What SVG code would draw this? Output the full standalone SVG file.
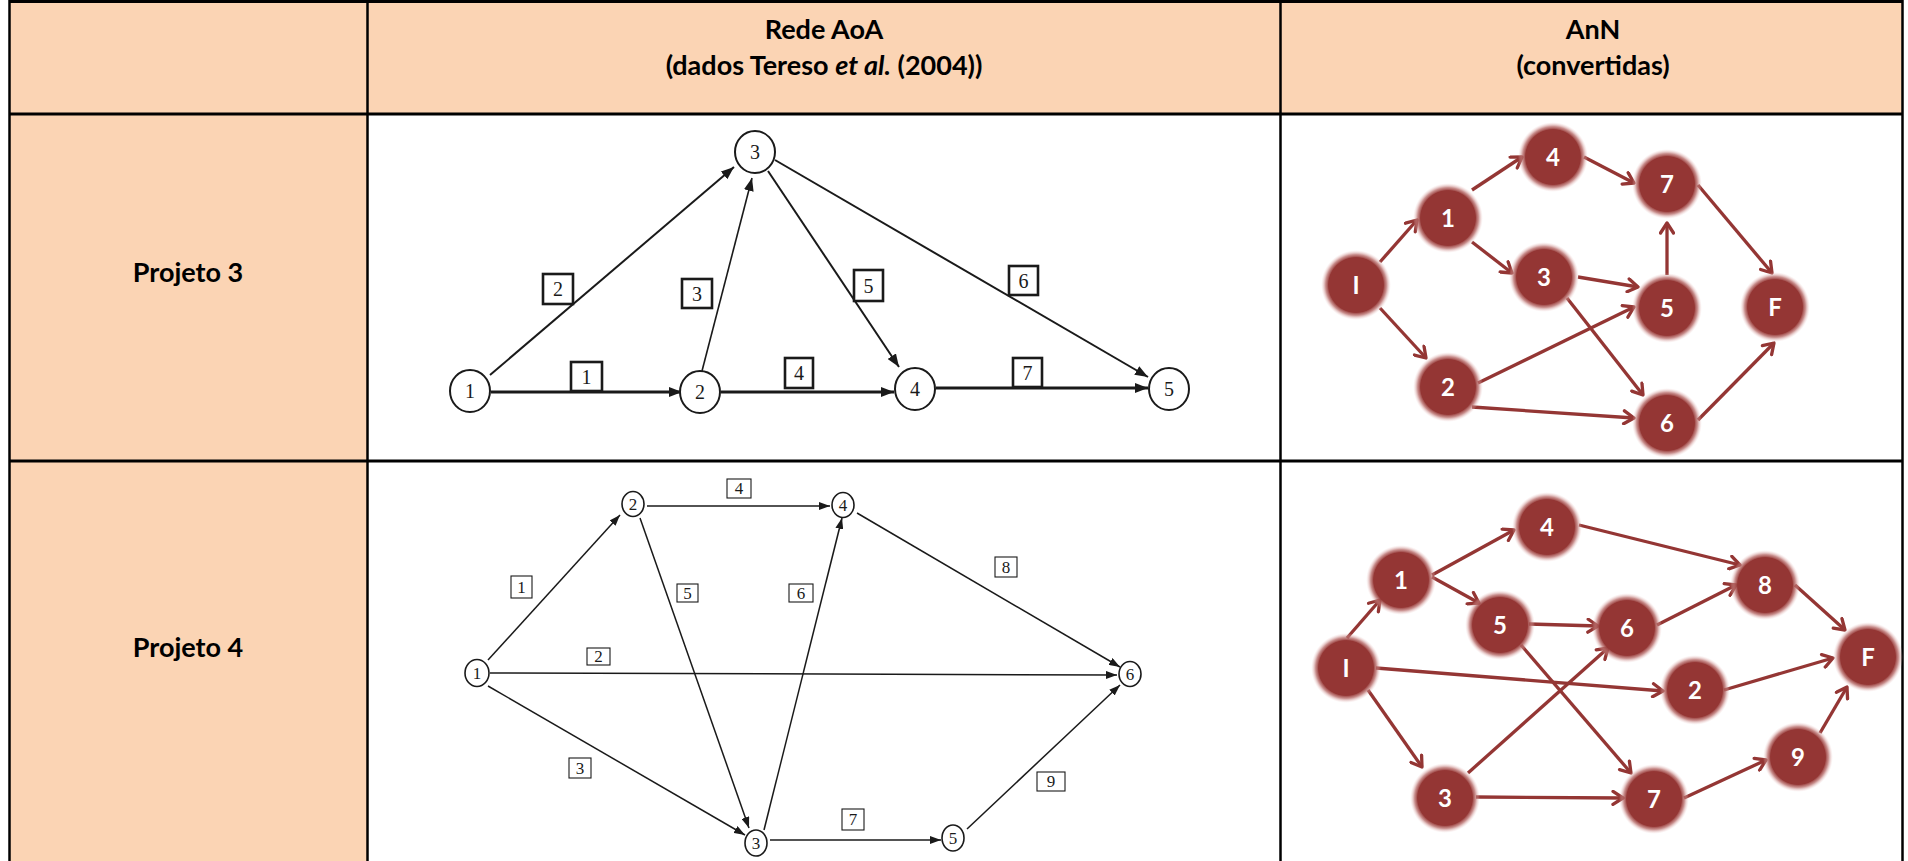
<svg xmlns="http://www.w3.org/2000/svg" width="1908" height="861" viewBox="0 0 1908 861">
  <style>
    .peach { fill: #FBD4B4; }
    .grid { stroke: #000; fill: none; }
    .hdr { font-family: Lato, "Open Sans", "Liberation Sans", sans-serif; font-weight: 700; font-size: 27px; fill: #000; text-anchor: middle; }
    .aoa-n { fill: #fff; stroke: #1a1a1a; stroke-width: 2; }
    .aoa-n4 { fill: #fff; stroke: #1a1a1a; stroke-width: 1.6; }
    .aoa-t { font-family: "Liberation Serif", "DejaVu Serif", serif; font-size: 20px; fill: #1a1a1a; text-anchor: middle; }
    .aoa-t4 { font-family: "Liberation Serif", "DejaVu Serif", serif; font-size: 17px; fill: #1a1a1a; text-anchor: middle; }
    .box3 { fill: #fff; stroke: #1a1a1a; stroke-width: 2.6; }
    .box4 { fill: #fff; stroke: #1a1a1a; stroke-width: 1.1; }
    .e3 { stroke: #1a1a1a; fill: none; marker-end: url(#tri3); }
    .e4 { stroke: #1a1a1a; fill: none; stroke-width: 1.5; marker-end: url(#tri4); }
    .ann-e { stroke: #943634; stroke-width: 3.3; fill: none; marker-end: url(#chev); }
    .ann-core { fill: #943634; }
    .ann-t { font-family: Lato, "Open Sans", "Liberation Sans", sans-serif; font-weight: 700; font-size: 24px; fill: #fff; text-anchor: middle; }
  </style>
  <defs>
    <marker id="tri3" viewBox="0 0 13 10" refX="13" refY="5" markerWidth="13" markerHeight="10" markerUnits="userSpaceOnUse" orient="auto">
      <path d="M0,0 L13,5 L0,10 z" fill="#1a1a1a"/>
    </marker>
    <marker id="tri4" viewBox="0 0 11 8" refX="11" refY="4" markerWidth="11" markerHeight="8" markerUnits="userSpaceOnUse" orient="auto">
      <path d="M0,0 L11,4 L0,8 z" fill="#1a1a1a"/>
    </marker>
    <marker id="chev" viewBox="0 0 16 16" refX="13" refY="8" markerWidth="16" markerHeight="16" markerUnits="userSpaceOnUse" orient="auto">
      <path d="M3,1.5 L13,8 L3,14.5" fill="none" stroke="#943634" stroke-width="3.3" stroke-linecap="round" stroke-linejoin="round"/>
    </marker>
    <radialGradient id="halo" cx="50%" cy="50%" r="50%">
      <stop offset="0" stop-color="#943634"/>
      <stop offset="0.78" stop-color="#943634"/>
      <stop offset="0.87" stop-color="#b76a68" stop-opacity="0.75"/>
      <stop offset="1" stop-color="#f3d3d2" stop-opacity="0"/>
    </radialGradient>
  </defs>

  <!-- table background -->
  <rect x="0" y="0" width="1908" height="861" fill="#fff"/>
  <rect class="peach" x="9" y="0" width="1894" height="114"/>
  <rect class="peach" x="9" y="114" width="358" height="747"/>

  <!-- table rules -->
  <g id="table-grid" class="grid">
    <line x1="9" y1="1.5" x2="1903" y2="1.5" stroke-width="3"/>
    <line x1="9" y1="114" x2="1903" y2="114" stroke-width="3"/>
    <line x1="9" y1="461" x2="1903" y2="461" stroke-width="3"/>
    <line x1="9.5" y1="0" x2="9.5" y2="861" stroke-width="2.5"/>
    <line x1="367.5" y1="0" x2="367.5" y2="861" stroke-width="2.5"/>
    <line x1="1280.5" y1="0" x2="1280.5" y2="861" stroke-width="2.5"/>
    <line x1="1902.5" y1="0" x2="1902.5" y2="861" stroke-width="2.5"/>
  </g>

  <!-- headings -->
  <g id="headings">
    <text class="hdr" x="824" y="39">Rede AoA</text>
    <text class="hdr" x="824" y="75">(dados Tereso <tspan font-style="italic">et al.</tspan> (2004))</text>
    <text class="hdr" x="1593" y="39">AnN</text>
    <text class="hdr" x="1593" y="75">(convertidas)</text>
    <text class="hdr" x="188" y="282">Projeto 3</text>
    <text class="hdr" x="188" y="657">Projeto 4</text>
  </g>

  <!-- ===== Projeto 3, activity-on-arrow ===== -->
  <g id="p3-aoa-edges">
    <line class="e3" x1="491" y1="392" x2="682" y2="392" stroke-width="3"/>
    <line class="e3" x1="721" y1="392" x2="894" y2="392" stroke-width="3"/>
    <line class="e3" x1="936" y1="388" x2="1148" y2="388" stroke-width="3"/>
    <line class="e3" x1="490" y1="375" x2="734" y2="167" stroke-width="2"/>
    <line class="e3" x1="702" y1="371" x2="752" y2="178" stroke-width="1.6"/>
    <line class="e3" x1="768" y1="171" x2="899" y2="367" stroke-width="2"/>
    <line class="e3" x1="775" y1="160" x2="1148" y2="377" stroke-width="2"/>
  </g>
  <g id="p3-aoa-labels">
    <g id="p3-act1"><rect class="box3" x="571" y="362" width="31" height="29"/><text class="aoa-t" x="586.5" y="384">1</text></g>
    <g id="p3-act2"><rect class="box3" x="543" y="274" width="30" height="30"/><text class="aoa-t" x="558" y="296">2</text></g>
    <g id="p3-act3"><rect class="box3" x="682" y="279" width="30" height="29"/><text class="aoa-t" x="697" y="301">3</text></g>
    <g id="p3-act4"><rect class="box3" x="785" y="358" width="28" height="30"/><text class="aoa-t" x="799" y="380">4</text></g>
    <g id="p3-act5"><rect class="box3" x="854" y="270" width="29" height="31"/><text class="aoa-t" x="868.5" y="293">5</text></g>
    <g id="p3-act6"><rect class="box3" x="1009" y="266" width="29" height="29"/><text class="aoa-t" x="1023.5" y="288">6</text></g>
    <g id="p3-act7"><rect class="box3" x="1013" y="358" width="29" height="29"/><text class="aoa-t" x="1027.5" y="380">7</text></g>
  </g>
  <g id="p3-aoa-n1"><ellipse class="aoa-n" cx="470" cy="391" rx="20" ry="21"/><text class="aoa-t" x="470" y="398">1</text></g>
  <g id="p3-aoa-n2"><ellipse class="aoa-n" cx="700" cy="392" rx="20" ry="21"/><text class="aoa-t" x="700" y="399">2</text></g>
  <g id="p3-aoa-n3"><ellipse class="aoa-n" cx="755" cy="152" rx="20" ry="21"/><text class="aoa-t" x="755" y="159">3</text></g>
  <g id="p3-aoa-n4"><ellipse class="aoa-n" cx="915" cy="389" rx="20" ry="21"/><text class="aoa-t" x="915" y="396">4</text></g>
  <g id="p3-aoa-n5"><ellipse class="aoa-n" cx="1169" cy="389" rx="20" ry="21"/><text class="aoa-t" x="1169" y="396">5</text></g>

  <!-- ===== Projeto 3, activity-on-node ===== -->
  <g id="p3-ann-edges">
    <line class="ann-e" x1="1380" y1="262" x2="1417" y2="220"/>
    <line class="ann-e" x1="1380" y1="308" x2="1426" y2="358"/>
    <line class="ann-e" x1="1472" y1="190" x2="1522" y2="157"/>
    <line class="ann-e" x1="1472" y1="242" x2="1512" y2="273"/>
    <line class="ann-e" x1="1584" y1="157" x2="1634" y2="183"/>
    <line class="ann-e" x1="1578" y1="277" x2="1638" y2="287"/>
    <line class="ann-e" x1="1567" y1="298" x2="1643" y2="395"/>
    <line class="ann-e" x1="1667" y1="275" x2="1667" y2="223"/>
    <line class="ann-e" x1="1698" y1="185" x2="1772" y2="273"/>
    <line class="ann-e" x1="1478" y1="383" x2="1634" y2="307"/>
    <line class="ann-e" x1="1472" y1="407" x2="1634" y2="418"/>
    <line class="ann-e" x1="1698" y1="420" x2="1774" y2="343"/>
  </g>
  <g id="p3-ann-I"><circle cx="1356" cy="285" r="35" fill="url(#halo)"/><circle class="ann-core" cx="1356" cy="285" r="27.5"/><text class="ann-t" x="1356" y="294">I</text></g>
  <g id="p3-ann-1"><circle cx="1448" cy="218" r="35" fill="url(#halo)"/><circle class="ann-core" cx="1448" cy="218" r="27.5"/><text class="ann-t" x="1448" y="227">1</text></g>
  <g id="p3-ann-4"><circle cx="1553" cy="157" r="35" fill="url(#halo)"/><circle class="ann-core" cx="1553" cy="157" r="27.5"/><text class="ann-t" x="1553" y="166">4</text></g>
  <g id="p3-ann-7"><circle cx="1667" cy="184" r="35" fill="url(#halo)"/><circle class="ann-core" cx="1667" cy="184" r="27.5"/><text class="ann-t" x="1667" y="193">7</text></g>
  <g id="p3-ann-3"><circle cx="1544" cy="277" r="35" fill="url(#halo)"/><circle class="ann-core" cx="1544" cy="277" r="27.5"/><text class="ann-t" x="1544" y="286">3</text></g>
  <g id="p3-ann-5"><circle cx="1667" cy="308" r="35" fill="url(#halo)"/><circle class="ann-core" cx="1667" cy="308" r="27.5"/><text class="ann-t" x="1667" y="317">5</text></g>
  <g id="p3-ann-F"><circle cx="1775" cy="307" r="35" fill="url(#halo)"/><circle class="ann-core" cx="1775" cy="307" r="27.5"/><text class="ann-t" x="1775" y="316">F</text></g>
  <g id="p3-ann-2"><circle cx="1448" cy="387" r="35" fill="url(#halo)"/><circle class="ann-core" cx="1448" cy="387" r="27.5"/><text class="ann-t" x="1448" y="396">2</text></g>
  <g id="p3-ann-6"><circle cx="1667" cy="423" r="35" fill="url(#halo)"/><circle class="ann-core" cx="1667" cy="423" r="27.5"/><text class="ann-t" x="1667" y="432">6</text></g>

  <!-- ===== Projeto 4, activity-on-arrow ===== -->
  <g id="p4-aoa-edges">
    <line class="e4" x1="488" y1="660" x2="620" y2="515"/>
    <line class="e4" x1="490" y1="673" x2="1117" y2="675"/>
    <line class="e4" x1="488" y1="686" x2="745" y2="835"/>
    <line class="e4" x1="647" y1="506" x2="830" y2="506" stroke-width="2"/>
    <line class="e4" x1="640" y1="518" x2="749" y2="828"/>
    <line class="e4" x1="764" y1="830" x2="842" y2="518"/>
    <line class="e4" x1="857" y1="513" x2="1120" y2="667"/>
    <line class="e4" x1="770" y1="840" x2="941" y2="840" stroke-width="3"/>
    <line class="e4" x1="967" y1="829" x2="1120" y2="685"/>
  </g>
  <g id="p4-aoa-labels">
    <g id="p4-act1"><rect class="box4" x="511" y="576" width="21" height="22"/><text class="aoa-t4" x="521.5" y="593">1</text></g>
    <g id="p4-act2"><rect class="box4" x="587" y="648" width="23" height="17"/><text class="aoa-t4" x="598.5" y="662">2</text></g>
    <g id="p4-act3"><rect class="box4" x="569" y="758" width="22" height="20"/><text class="aoa-t4" x="580" y="774">3</text></g>
    <g id="p4-act4"><rect class="box4" x="727" y="479" width="24" height="19"/><text class="aoa-t4" x="739" y="494">4</text></g>
    <g id="p4-act5"><rect class="box4" x="677" y="584" width="21" height="18"/><text class="aoa-t4" x="687.5" y="599">5</text></g>
    <g id="p4-act6"><rect class="box4" x="789" y="584" width="24" height="18"/><text class="aoa-t4" x="801" y="599">6</text></g>
    <g id="p4-act7"><rect class="box4" x="842" y="809" width="22" height="21"/><text class="aoa-t4" x="853" y="825">7</text></g>
    <g id="p4-act8"><rect class="box4" x="995" y="557" width="22" height="20"/><text class="aoa-t4" x="1006" y="573">8</text></g>
    <g id="p4-act9"><rect class="box4" x="1037" y="772" width="28" height="19"/><text class="aoa-t4" x="1051" y="787">9</text></g>
  </g>
  <g id="p4-aoa-n1"><ellipse class="aoa-n4" cx="477" cy="673" rx="12" ry="13.5"/><text class="aoa-t4" x="477" y="679">1</text></g>
  <g id="p4-aoa-n2"><ellipse class="aoa-n4" cx="633" cy="504" rx="11" ry="12.5"/><text class="aoa-t4" x="633" y="510">2</text></g>
  <g id="p4-aoa-n4"><ellipse class="aoa-n4" cx="843" cy="505" rx="11" ry="12.5"/><text class="aoa-t4" x="843" y="511">4</text></g>
  <g id="p4-aoa-n6"><ellipse class="aoa-n4" cx="1130" cy="674" rx="11" ry="12.5"/><text class="aoa-t4" x="1130" y="680">6</text></g>
  <g id="p4-aoa-n3"><ellipse class="aoa-n4" cx="756" cy="843" rx="11" ry="13"/><text class="aoa-t4" x="756" y="849">3</text></g>
  <g id="p4-aoa-n5"><ellipse class="aoa-n4" cx="953" cy="838" rx="11" ry="13"/><text class="aoa-t4" x="953" y="844">5</text></g>

  <!-- ===== Projeto 4, activity-on-node ===== -->
  <g id="p4-ann-edges">
    <line class="ann-e" x1="1347" y1="638" x2="1380" y2="600"/>
    <line class="ann-e" x1="1376" y1="668" x2="1663" y2="691"/>
    <line class="ann-e" x1="1368" y1="690" x2="1422" y2="767"/>
    <line class="ann-e" x1="1432" y1="575" x2="1514" y2="530"/>
    <line class="ann-e" x1="1432" y1="577" x2="1479" y2="603"/>
    <line class="ann-e" x1="1579" y1="525" x2="1740" y2="565"/>
    <line class="ann-e" x1="1529" y1="624" x2="1598" y2="626"/>
    <line class="ann-e" x1="1521" y1="645" x2="1631" y2="773"/>
    <line class="ann-e" x1="1468" y1="773" x2="1608" y2="648"/>
    <line class="ann-e" x1="1476" y1="797" x2="1623" y2="798"/>
    <line class="ann-e" x1="1657" y1="625" x2="1736" y2="585"/>
    <line class="ann-e" x1="1795" y1="585" x2="1845" y2="630"/>
    <line class="ann-e" x1="1724" y1="690" x2="1833" y2="658"/>
    <line class="ann-e" x1="1684" y1="798" x2="1766" y2="760"/>
    <line class="ann-e" x1="1820" y1="733" x2="1847" y2="687"/>
  </g>
  <g id="p4-ann-I"><circle cx="1346" cy="668" r="35" fill="url(#halo)"/><circle class="ann-core" cx="1346" cy="668" r="27.5"/><text class="ann-t" x="1346" y="677">I</text></g>
  <g id="p4-ann-1"><circle cx="1401" cy="580" r="35" fill="url(#halo)"/><circle class="ann-core" cx="1401" cy="580" r="27.5"/><text class="ann-t" x="1401" y="589">1</text></g>
  <g id="p4-ann-4"><circle cx="1547" cy="527" r="35" fill="url(#halo)"/><circle class="ann-core" cx="1547" cy="527" r="27.5"/><text class="ann-t" x="1547" y="536">4</text></g>
  <g id="p4-ann-5"><circle cx="1500" cy="625" r="35" fill="url(#halo)"/><circle class="ann-core" cx="1500" cy="625" r="27.5"/><text class="ann-t" x="1500" y="634">5</text></g>
  <g id="p4-ann-6"><circle cx="1627" cy="628" r="35" fill="url(#halo)"/><circle class="ann-core" cx="1627" cy="628" r="27.5"/><text class="ann-t" x="1627" y="637">6</text></g>
  <g id="p4-ann-8"><circle cx="1765" cy="585" r="35" fill="url(#halo)"/><circle class="ann-core" cx="1765" cy="585" r="27.5"/><text class="ann-t" x="1765" y="594">8</text></g>
  <g id="p4-ann-2"><circle cx="1695" cy="690" r="35" fill="url(#halo)"/><circle class="ann-core" cx="1695" cy="690" r="27.5"/><text class="ann-t" x="1695" y="699">2</text></g>
  <g id="p4-ann-F"><circle cx="1868" cy="657" r="35" fill="url(#halo)"/><circle class="ann-core" cx="1868" cy="657" r="27.5"/><text class="ann-t" x="1868" y="666">F</text></g>
  <g id="p4-ann-3"><circle cx="1445" cy="798" r="35" fill="url(#halo)"/><circle class="ann-core" cx="1445" cy="798" r="27.5"/><text class="ann-t" x="1445" y="807">3</text></g>
  <g id="p4-ann-7"><circle cx="1654" cy="799" r="35" fill="url(#halo)"/><circle class="ann-core" cx="1654" cy="799" r="27.5"/><text class="ann-t" x="1654" y="808">7</text></g>
  <g id="p4-ann-9"><circle cx="1798" cy="757" r="35" fill="url(#halo)"/><circle class="ann-core" cx="1798" cy="757" r="27.5"/><text class="ann-t" x="1798" y="766">9</text></g>
</svg>
